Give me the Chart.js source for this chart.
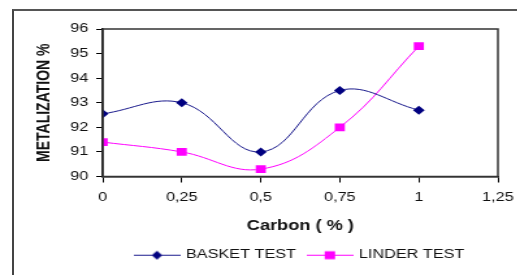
<!DOCTYPE html>
<html lang="en">
<head>
    <meta charset="UTF-8">
    <title>Metalization vs Carbon</title>
    <script src="https://cdn.jsdelivr.net/npm/chart.js"></script>
    <style>
        body {
            margin: 0;
            padding: 0;
            background: #fff;
            width: 517px;
            height: 275px;
            overflow: hidden;
            position: relative;
        }
        /* outer frame of the original picture */
        .frame {
            position: absolute;
            left: 12px;
            top: 9px;
            width: 700px;
            height: 400px;
            border-left: 2px solid #444;
            border-top: 2px solid #555;
        }
        /* the source image is stretched horizontally, so is this one */
        .wrap {
            position: absolute;
            left: 0;
            top: 0;
            width: 398px;
            height: 275px;
            transform: scaleX(1.3);
            transform-origin: 0 0;
        }
    </style>
</head>
<body>
    <div class="frame"></div>
    <div class="wrap">
        <canvas id="myChart"></canvas>
    </div>

    <script>
        // data
        const carbon = [0, 0.25, 0.5, 0.75, 1];
        const basketTest = [92.55, 93.0, 91.0, 93.5, 92.7];
        const linderTest = [91.4, 91.0, 90.3, 92.0, 95.3];
        const xTickLabels = ['0', '0,25', '0,5', '0,75', '1', '1,25'];
        const yTickLabels = ['90', '91', '92', '93', '94', '95', '96'];

        const font = 'Liberation Sans, Arial, sans-serif';

        // legend icon: a short line with the marker in the middle
        function legendIcon(color, lineColor, shape) {
            const c = document.createElement('canvas');
            c.width = 36;
            c.height = 12;
            const g = c.getContext('2d');
            g.strokeStyle = lineColor;
            g.lineWidth = 1;
            g.beginPath();
            g.moveTo(0, 6.5);
            g.lineTo(36, 6.5);
            g.stroke();
            g.fillStyle = color;
            if (shape === 'diamond') {
                g.beginPath();
                g.moveTo(18, 2);
                g.lineTo(22, 6.5);
                g.lineTo(18, 11);
                g.lineTo(14, 6.5);
                g.closePath();
                g.fill();
            } else {
                g.fillRect(14, 2.5, 8, 8);
            }
            return c;
        }
        const icons = [
            legendIcon('#000080', '#1a1a8c', 'diamond'),
            legendIcon('#ff00ff', '#ff00ff', 'square')
        ];

        // plot box border (top and right edges)
        const plotBox = {
            id: 'plotBox',
            afterDraw(chart) {
                const a = chart.chartArea;
                const ctx = chart.ctx;
                ctx.save();
                ctx.strokeStyle = '#333';
                ctx.lineWidth = 1.5;
                ctx.strokeRect(a.left, a.top, a.right - a.left, a.bottom - a.top);
                ctx.restore();
            }
        };

        const ctx = document.getElementById('myChart').getContext('2d');
        const myChart = new Chart(ctx, {
            type: 'line',
            data: {
                datasets: [{
                    label: 'BASKET TEST',
                    data: carbon.map((c, i) => ({ x: c, y: basketTest[i] })),
                    borderColor: '#1a1a8c',
                    backgroundColor: '#000080',
                    borderWidth: 1,
                    pointStyle: 'rectRot',
                    pointRadius: 4.5,
                    pointBorderWidth: 0,
                    tension: 0.4,
                    fill: false
                }, {
                    label: 'LINDER TEST',
                    data: carbon.map((c, i) => ({ x: c, y: linderTest[i] })),
                    borderColor: '#ff00ff',
                    backgroundColor: '#ff00ff',
                    borderWidth: 1,
                    pointStyle: 'rect',
                    pointRadius: 5.5,
                    pointBorderWidth: 0,
                    tension: 0.4,
                    fill: false
                }]
            },
            options: {
                responsive: true,
                maintainAspectRatio: false,
                animation: false,
                layout: {
                    padding: { left: 22, right: 15, top: 29, bottom: 4 }
                },
                plugins: {
                    tooltip: { enabled: false },
                    legend: {
                        position: 'bottom',
                        fullSize: false,
                        labels: {
                            usePointStyle: true,
                            pointStyleWidth: 32,
                            color: '#111',
                            padding: 10,
                            font: { family: font, size: 12.5 },
                            generateLabels(chart) {
                                const items = Chart.defaults.plugins.legend.labels.generateLabels(chart);
                                items.forEach((it, i) => { it.pointStyle = icons[i]; });
                                return items;
                            }
                        }
                    }
                },
                scales: {
                    x: {
                        type: 'linear',
                        min: 0,
                        max: 1.25,
                        afterFit: s => { s.height = 62; s.paddingRight = 0; s.paddingLeft = 0; },
                        ticks: {
                            stepSize: 0.25,
                            color: '#111',
                            padding: 8,
                            font: { family: font, size: 12.5 },
                            callback: (v, i) => xTickLabels[i]
                        },
                        grid: {
                            drawOnChartArea: false,
                            tickLength: 6,
                            color: '#000'
                        },
                        border: { display: true, color: '#000', width: 1.5 },
                        title: {
                            display: true,
                            text: 'Carbon ( % )',
                            color: '#111',
                            font: { family: font, size: 14, weight: 'bold' }
                        }
                    },
                    y: {
                        min: 90,
                        max: 96,
                        afterFit: s => { s.width = 57; s.paddingTop = 0; s.paddingBottom = 0; },
                        ticks: {
                            stepSize: 1,
                            color: '#111',
                            padding: 6,
                            font: { family: font, size: 12.5 },
                            callback: (v, i) => yTickLabels[i]
                        },
                        grid: {
                            drawOnChartArea: false,
                            tickLength: 5,
                            color: '#000'
                        },
                        border: { display: true, color: '#000', width: 1.5 },
                        title: {
                            display: true,
                            text: 'METALIZATION %',
                            color: '#111',
                            font: { family: font, size: 14, weight: 'bold' }
                        }
                    }
                }
            },
            plugins: [plotBox]
        });
    </script>
</body>
</html>
